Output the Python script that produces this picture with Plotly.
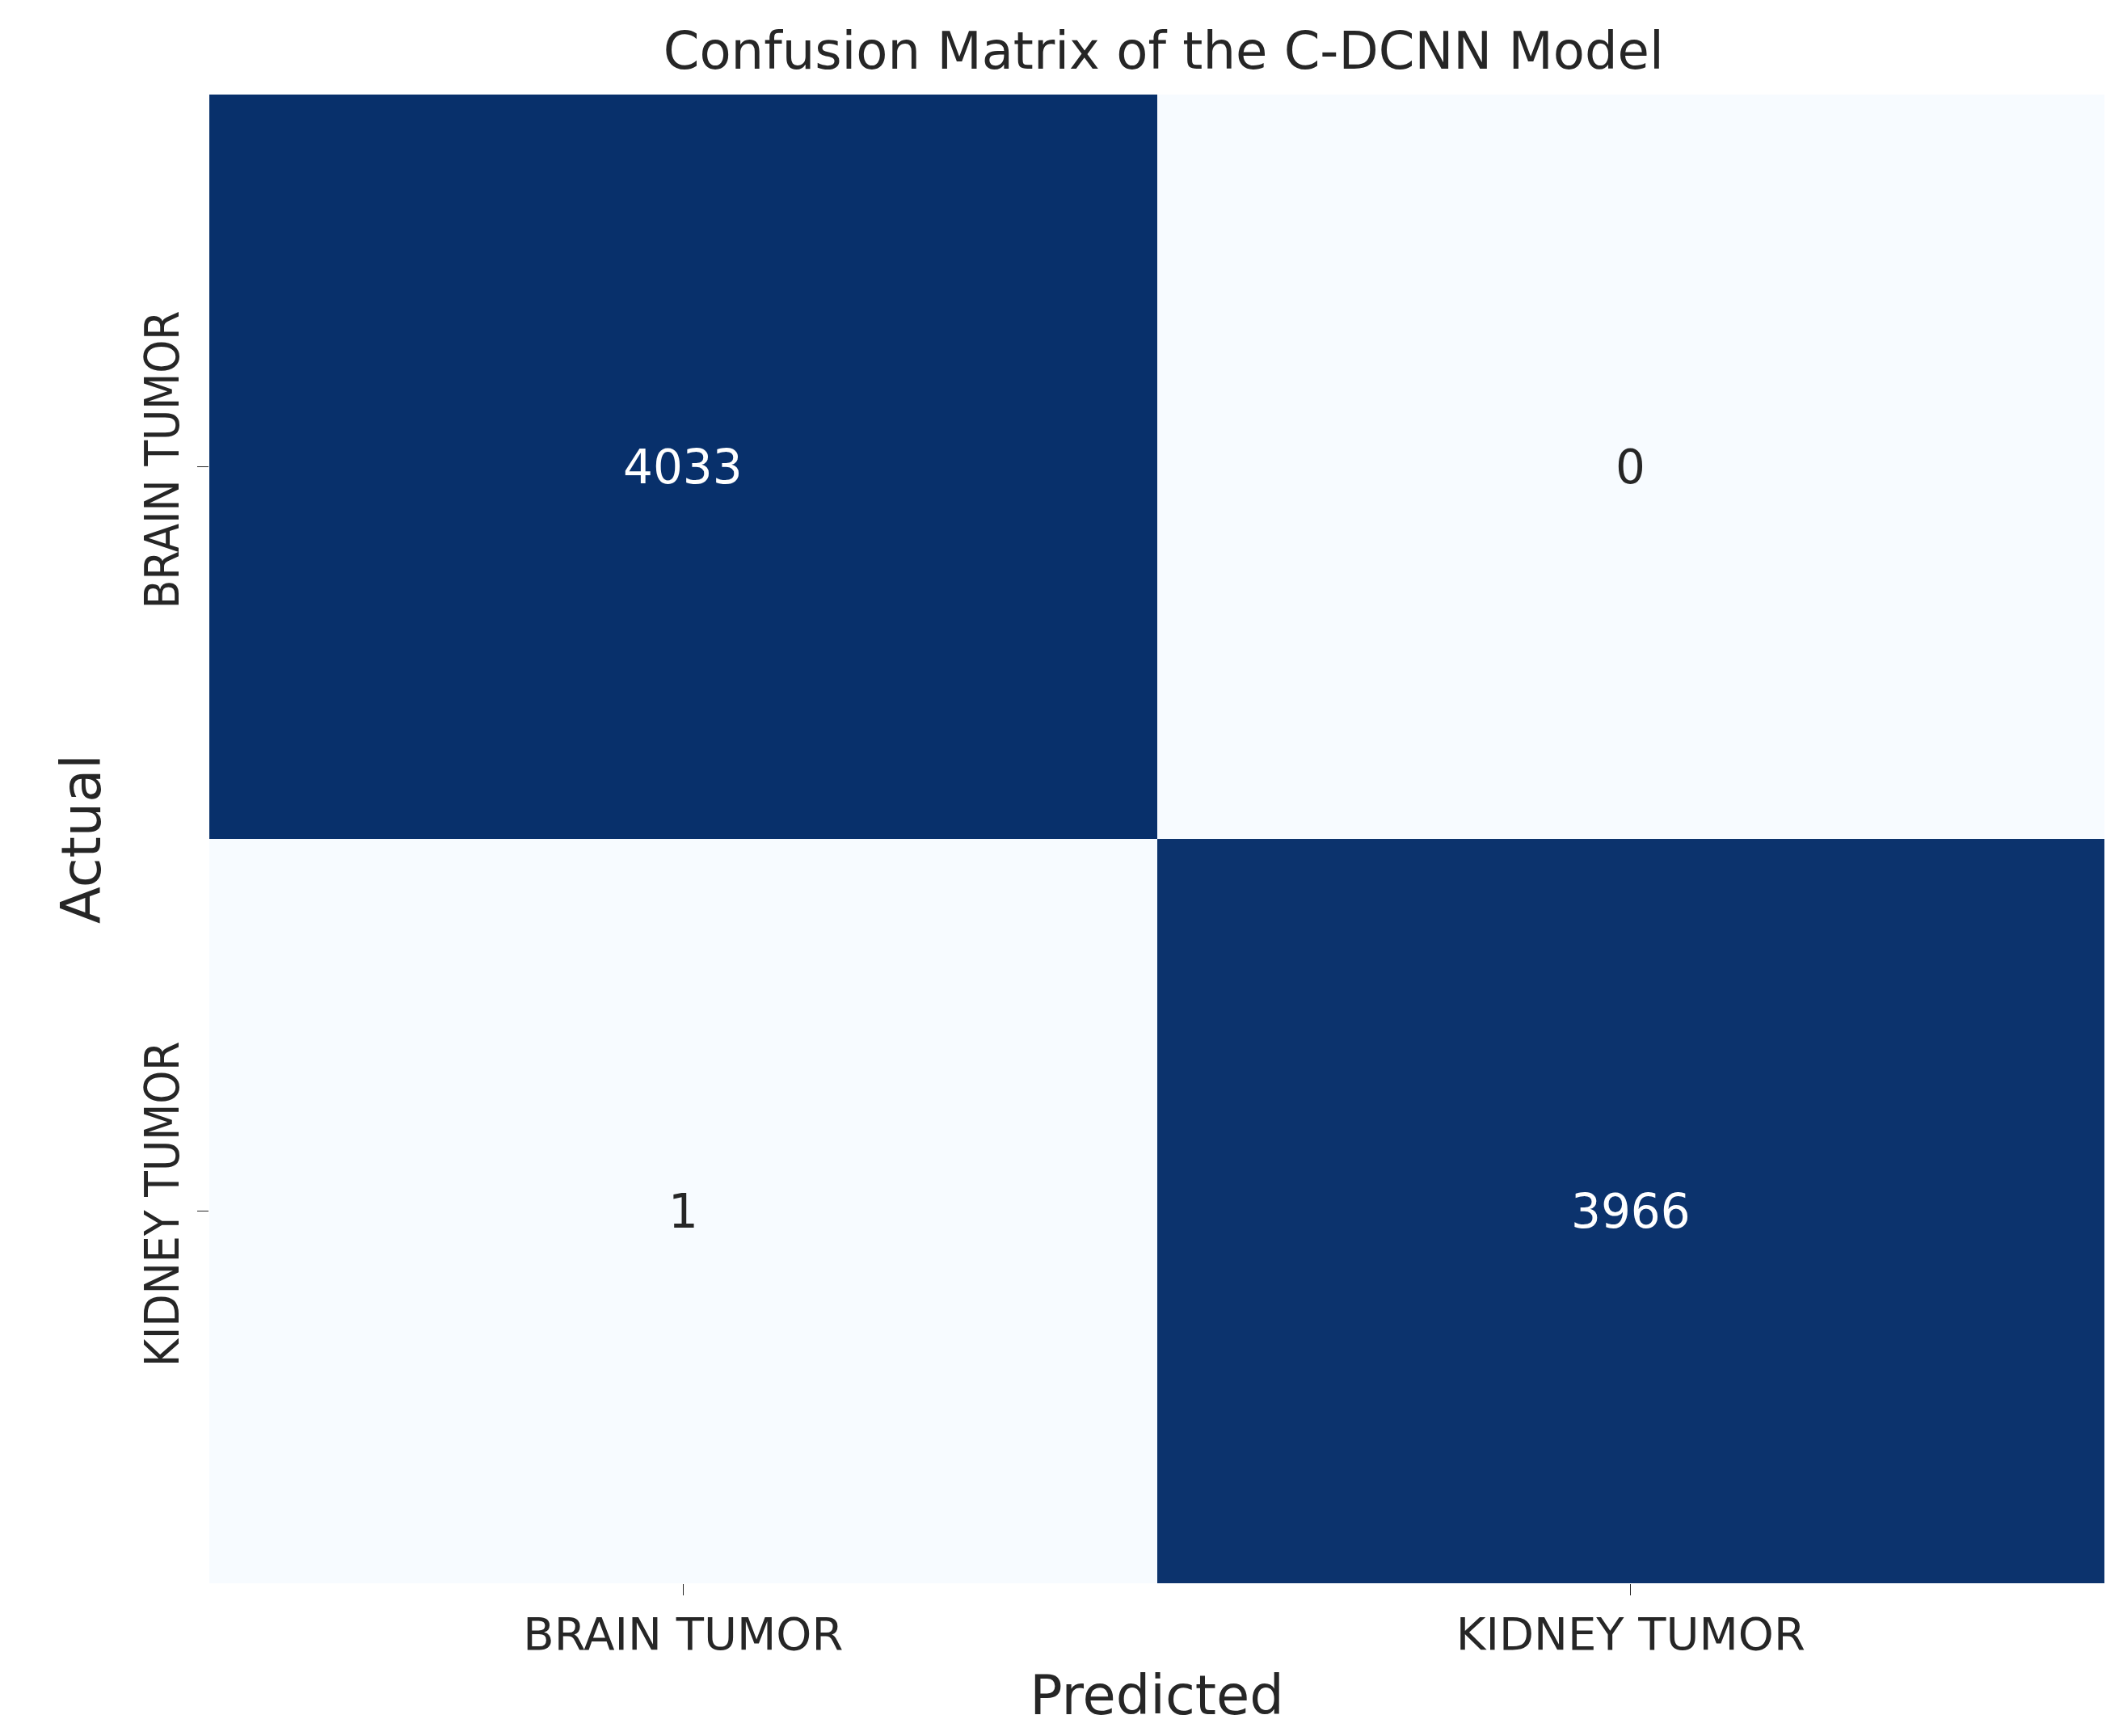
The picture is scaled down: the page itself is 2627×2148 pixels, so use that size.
import plotly.graph_objects as go

labels = ["BRAIN TUMOR", "KIDNEY TUMOR"]
matrix = [[4033, 0], [1, 3966]]

text_colors = [["white" if v > 2000 else "#262626" for v in row] for row in matrix]

fig = go.Figure(go.Heatmap(
    z=matrix, x=labels, y=labels,
    colorscale=[[0, "#f7fbff"], [1, "#08306b"]],
    showscale=False, xgap=0, ygap=0,
))
for i, row in enumerate(matrix):
    for j, v in enumerate(row):
        fig.add_annotation(x=labels[j], y=labels[i], text=str(v), showarrow=False,
                           font=dict(size=58, color=text_colors[i][j], family="DejaVu Sans"))

fig.update_layout(
    width=2627, height=2148,
    margin=dict(l=251, r=31, t=109, b=197),
    paper_bgcolor="white", plot_bgcolor="white",
    font=dict(family="DejaVu Sans", color="#262626", size=56),
    title=dict(text="Confusion Matrix of the C-DCNN Model", x=0.545, xanchor="center",
               y=0.985, yanchor="top", font=dict(size=64)),
)
fig.update_xaxes(title=dict(text="Predicted", standoff=20), ticks="outside", ticklen=14,
                 tickcolor="#262626", showgrid=False, zeroline=False)
fig.update_yaxes(title=dict(text="Actual", standoff=20), ticks="outside", ticklen=14,
                 tickcolor="#262626", autorange="reversed", tickangle=-90,
                 showgrid=False, zeroline=False,
                 tickfont=dict(family="DejaVu Sans Condensed, DejaVu Sans", size=58))
fig.write_html("out.html")
